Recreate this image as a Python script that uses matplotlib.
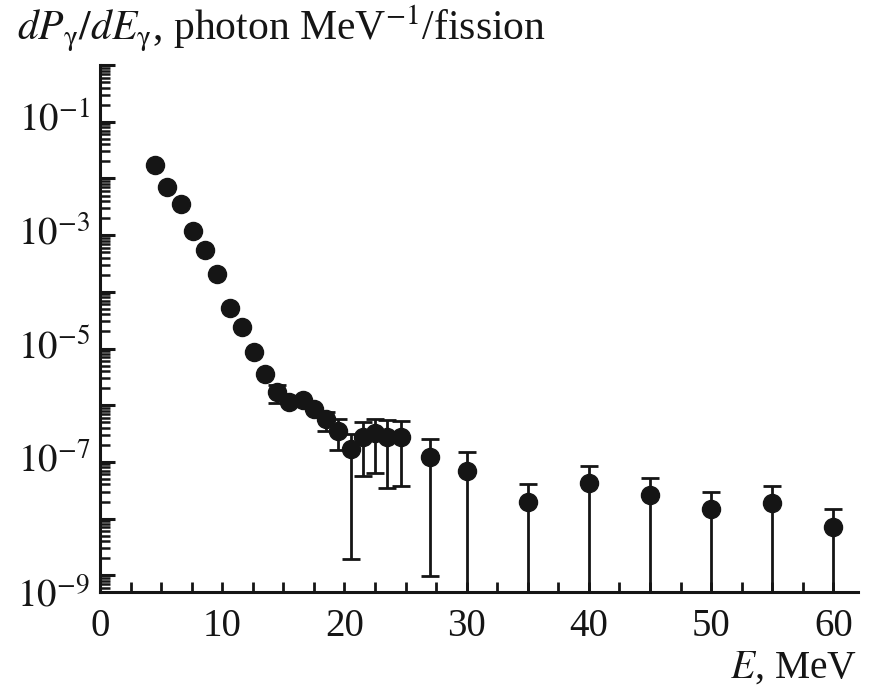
# Widmo fotonów na rozszczepienie - odtworzenie wykresu

import matplotlib.pyplot as plt
import matplotlib.transforms as mtransforms
import numpy as np
from matplotlib.ticker import FixedLocator, LogLocator, NullFormatter

# Dane
energy = [4.5, 5.5, 6.6, 7.6, 8.6, 9.6, 10.6, 11.6, 12.6, 13.5,
          14.5, 15.5, 16.6, 17.5, 18.5, 19.5, 20.5, 21.5, 22.5, 23.5,
          24.6, 27.0, 30.0, 35.0, 40.0, 45.0, 50.0, 55.0, 60.0]
yield_ = [1.7e-2, 7.2e-3, 3.5e-3, 1.2e-3, 5.5e-4, 2.1e-4, 5.1e-5, 2.4e-5, 8.7e-6, 3.5e-6,
          1.7e-6, 1.15e-6, 1.26e-6, 8.5e-7, 5.6e-7, 3.5e-7, 1.7e-7, 2.8e-7, 3.2e-7, 2.7e-7,
          2.8e-7, 1.2e-7, 6.9e-8, 2.0e-8, 4.2e-8, 2.6e-8, 1.5e-8, 1.9e-8, 7.1e-9]
# granice słupków błędów (nan = brak słupka, 1e-12 = do osi)
err_low = [np.nan] * 10 + [1.1e-6, np.nan, np.nan, np.nan, 3.5e-7, 1.6e-7, 1.9e-9, 5.6e-8, 6.3e-8, 3.4e-8,
                           3.8e-8, 9.8e-10, 1e-12, 1e-12, 1e-12, 1e-12, 1e-12, 1e-12, 1e-12]
err_high = [np.nan] * 10 + [2.3e-6, np.nan, np.nan, np.nan, 7.7e-7, 5.7e-7, 3.1e-7, 5.1e-7, 5.7e-7, 5.5e-7,
                            5.3e-7, 2.5e-7, 1.5e-7, 4.1e-8, 8.5e-8, 5.1e-8, 2.9e-8, 3.8e-8, 1.5e-8]

x_ticks = [0, 10, 20, 30, 40, 50, 60]
y_ticks = [1e-9, 1e-7, 1e-5, 1e-3, 1e-1]
y_tick_labels = [r"$10^{-9}$", r"$10^{-7}$", r"$10^{-5}$", r"$10^{-3}$", r"$10^{-1}$"]

plt.rcParams["font.family"] = ["Liberation Serif", "DejaVu Serif"]
plt.rcParams["mathtext.fontset"] = "stix"

fig = plt.figure(figsize=(8.7, 6.93), dpi=100)
ax = fig.add_axes([0.115, 0.146, 0.871, 0.760])

x = np.array(energy)
y = np.array(yield_)
lo = np.array(err_low)
hi = np.array(err_high)
has_err = ~np.isnan(hi)

dark = "#151515"
ax.errorbar(x[has_err], y[has_err],
            yerr=[y[has_err] - lo[has_err], hi[has_err] - y[has_err]],
            fmt="none", ecolor=dark, elinewidth=2.0, capsize=6.5, capthick=2.0, zorder=2)
ax.plot(x, y, "o", color=dark, markersize=13, zorder=3)

ax.set_yscale("log")
ax.set_xlim(0, 62)
ax.set_ylim(5.1e-10, 1.0)

for side in ["top", "right"]:
    ax.spines[side].set_visible(False)
for side in ["left", "bottom"]:
    ax.spines[side].set_linewidth(2.2)
    ax.spines[side].set_color(dark)

# podziałki osi x
ax.xaxis.set_major_locator(FixedLocator(x_ticks))
ax.xaxis.set_minor_locator(FixedLocator(np.arange(2.5, 62, 2.5)))
ax.set_xticklabels([str(t) for t in x_ticks])

# podziałki osi y (etykiety dodane niżej jako tekst)
ax.yaxis.set_major_locator(LogLocator(base=10, numticks=20))
ax.yaxis.set_minor_locator(LogLocator(base=10, subs=np.arange(2, 10), numticks=100))
ax.yaxis.set_major_formatter(NullFormatter())
ax.yaxis.set_minor_formatter(NullFormatter())

ax.tick_params(axis="both", which="both", direction="in", colors=dark, labelsize=28)
ax.tick_params(axis="y", which="major", length=11, width=2.2)
ax.tick_params(axis="y", which="minor", length=7, width=1.8)
ax.tick_params(axis="x", which="both", length=7, width=2.0, pad=12)

# etykiety osi y; 10^-9 przesunięta w dół jak w oryginale
for t, lab in zip(y_ticks, y_tick_labels):
    dy = -22 / 100 if t == 1e-9 else 0
    tr = ax.get_yaxis_transform() + mtransforms.ScaledTranslation(-10 / 100, dy, fig.dpi_scale_trans)
    ax.text(0, t, lab, transform=tr, ha="right", va="center", fontsize=28, color=dark)

fig.text(0.02, 0.942, r"$dP_\mathrm{\gamma}/dE_\mathrm{\gamma}$, photon MeV$^{-1}$/fission",
         fontsize=30, color=dark, ha="left", va="baseline")
fig.text(0.985, 0.022, r"$E$, MeV", fontsize=28.5, color=dark, ha="right", va="baseline")

fig.savefig("out.png", dpi=100)
